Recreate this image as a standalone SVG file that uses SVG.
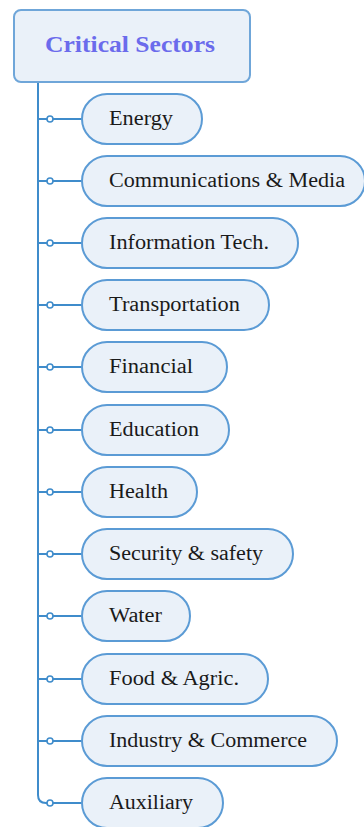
<svg xmlns="http://www.w3.org/2000/svg" width="364" height="827" viewBox="0 0 364 827">
<style>
.pill{fill:#eaf1f9;stroke:#5b9bd5;stroke-width:2}
.lbl{font-size:20px;fill:#1a1a1a}
.conn{stroke:#3f8ccb;stroke-width:2;fill:none}
.dot{fill:#ffffff;stroke:#3f8ccb;stroke-width:1.6}
</style>
<rect width="364" height="827" fill="#ffffff"/>
<g id="connectors">
<path class="conn" d="M38,82 V795 Q38,803 46,803 H82" stroke-width="3"/>
<path class="conn" d="M38,119 H82 M38,181 H82 M38,243 H82 M38,305 H82 M38,367 H82 M38,430 H82 M38,492 H82 M38,554 H82 M38,616 H82 M38,679 H82 M38,741 H82"/>
<circle class="dot" cx="50" cy="119" r="3"/><circle class="dot" cx="50" cy="181" r="3"/><circle class="dot" cx="50" cy="243" r="3"/><circle class="dot" cx="50" cy="305" r="3"/><circle class="dot" cx="50" cy="367" r="3"/><circle class="dot" cx="50" cy="430" r="3"/><circle class="dot" cx="50" cy="492" r="3"/><circle class="dot" cx="50" cy="554" r="3"/><circle class="dot" cx="50" cy="616" r="3"/><circle class="dot" cx="50" cy="679" r="3"/><circle class="dot" cx="50" cy="741" r="3"/><circle class="dot" cx="50" cy="803" r="3"/>
</g>
<g id="root">
<rect x="14" y="10" width="236" height="72" rx="7" fill="#eaf1f9" stroke="#6fa6d9" stroke-width="2"/>
<text x="45" y="52" font-family="Liberation Serif, serif" font-size="23" font-weight="bold" fill="#6b6bec" textLength="170" lengthAdjust="spacingAndGlyphs">Critical Sectors</text>
</g>
<g font-family="Liberation Serif, Times New Roman, serif">
<g id="n1"><rect class="pill" x="82" y="94" width="120" height="50" rx="25"/><text class="lbl" x="109" y="125" textLength="64" lengthAdjust="spacingAndGlyphs">Energy</text></g>
<g id="n2"><rect class="pill" x="82" y="156" width="283" height="50" rx="25"/><text class="lbl" x="109" y="187" textLength="236" lengthAdjust="spacingAndGlyphs">Communications &amp; Media</text></g>
<g id="n3"><rect class="pill" x="82" y="218" width="216" height="50" rx="25"/><text class="lbl" x="109" y="249" textLength="160" lengthAdjust="spacingAndGlyphs">Information Tech.</text></g>
<g id="n4"><rect class="pill" x="82" y="280" width="187" height="50" rx="25"/><text class="lbl" x="109" y="311" textLength="131" lengthAdjust="spacingAndGlyphs">Transportation</text></g>
<g id="n5"><rect class="pill" x="82" y="342" width="145" height="50" rx="25"/><text class="lbl" x="109" y="373" textLength="84" lengthAdjust="spacingAndGlyphs">Financial</text></g>
<g id="n6"><rect class="pill" x="82" y="405" width="147" height="50" rx="25"/><text class="lbl" x="109" y="436" textLength="90" lengthAdjust="spacingAndGlyphs">Education</text></g>
<g id="n7"><rect class="pill" x="82" y="467" width="115" height="50" rx="25"/><text class="lbl" x="109" y="498" textLength="59" lengthAdjust="spacingAndGlyphs">Health</text></g>
<g id="n8"><rect class="pill" x="82" y="529" width="211" height="50" rx="25"/><text class="lbl" x="109" y="560" textLength="154" lengthAdjust="spacingAndGlyphs">Security &amp; safety</text></g>
<g id="n9"><rect class="pill" x="82" y="591" width="108" height="50" rx="25"/><text class="lbl" x="109" y="622" textLength="53" lengthAdjust="spacingAndGlyphs">Water</text></g>
<g id="n10"><rect class="pill" x="82" y="654" width="186" height="50" rx="25"/><text class="lbl" x="109" y="685" textLength="130" lengthAdjust="spacingAndGlyphs">Food &amp; Agric.</text></g>
<g id="n11"><rect class="pill" x="82" y="716" width="255" height="50" rx="25"/><text class="lbl" x="109" y="747" textLength="198" lengthAdjust="spacingAndGlyphs">Industry &amp; Commerce</text></g>
<g id="n12"><rect class="pill" x="82" y="778" width="141" height="50" rx="25"/><text class="lbl" x="109" y="809" textLength="84" lengthAdjust="spacingAndGlyphs">Auxiliary</text></g>
</g>
</svg>
